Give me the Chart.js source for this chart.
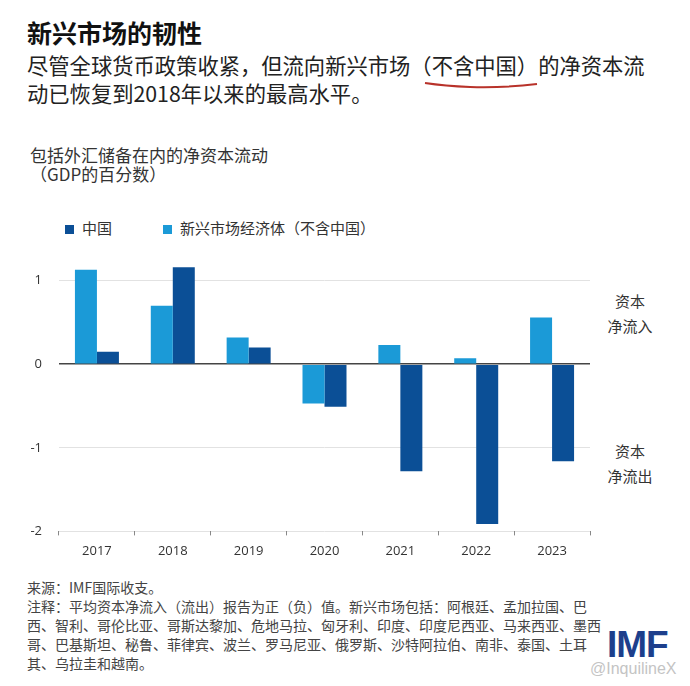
<!DOCTYPE html>
<html>
<head>
<meta charset="utf-8">
<script src="https://cdn.jsdelivr.net/npm/chart.js@4/dist/chart.umd.min.js"></script>
<style>
  body { margin: 0; background: #fff; width: 690px; height: 686px; overflow: hidden; position: relative; font-family: "Noto Sans CJK SC", sans-serif; }
  .abs { position: absolute; white-space: nowrap; }
  #title { left: 27px; top: 16px; font-size: 25px; line-height: 32px; font-weight: bold; color: #111; }
  #subtitle { left: 27px; top: 51px; font-size: 21.3px; line-height: 28px; color: #222; }
  #ytitle { left: 30px; top: 145px; font-size: 17px; line-height: 19px; color: #333; }
  .legend { top: 218px; font-size: 15px; line-height: 20px; color: #333; }
  .legend i { display: inline-block; width: 9px; height: 9px; margin-right: 8px; vertical-align: 0px; }
  .side { font-size: 15px; line-height: 25px; color: #333; text-align: center; left: 600px; width: 60px; }
  #notes { left: 27px; top: 578px; font-size: 14px; line-height: 19px; color: #444; }
  #imf { left: 607px; top: 624px; font-family: "Liberation Sans", sans-serif; font-weight: bold; font-size: 37px; color: #1d3f8c; letter-spacing: -1px; }
  #mark { left: 590px; top: 660px; font-family: "Liberation Sans", sans-serif; font-size: 16px; color: #c4c4c4; }
  #chart { position: absolute; left: 0; top: 214px; }
</style>
</head>
<body>
<div class="abs" id="title">新兴市场的韧性</div>
<div class="abs" id="subtitle">尽管全球货币政策收紧，但流向新兴市场（不含中国）的净资本流<br>动已恢复到2018年以来的最高水平。</div>
<svg class="abs" style="left:0;top:0" width="690" height="120">
  <path d="M425 83 Q445 86 470 87 Q505 88 537 84" stroke="#b8322a" stroke-width="2" fill="none"/>
</svg>
<div class="abs" id="ytitle">包括外汇储备在内的净资本流动<br>（GDP的百分数）</div>
<div class="abs legend" style="left:65px"><i style="background:#0b4f96"></i>中国</div>
<div class="abs legend" style="left:163px"><i style="background:#1b9ad7"></i>新兴市场经济体（不含中国）</div>
<div class="abs side" style="top:288px">资本<br>净流入</div>
<div class="abs side" style="top:438px">资本<br>净流出</div>
<canvas id="chart" width="690" height="355"></canvas>
<div class="abs" id="notes">来源：IMF国际收支。<br>注释：平均资本净流入（流出）报告为正（负）值。新兴市场包括：阿根廷、孟加拉国、巴<br>西、智利、哥伦比亚、哥斯达黎加、危地马拉、匈牙利、印度、印度尼西亚、马来西亚、墨西<br>哥、巴基斯坦、秘鲁、菲律宾、波兰、罗马尼亚、俄罗斯、沙特阿拉伯、南非、泰国、土耳<br>其、乌拉圭和越南。</div>
<div class="abs" id="imf">IMF</div>
<div class="abs" id="mark">@InquilineX</div>
<script>
const years = ["2017", "2018", "2019", "2020", "2021", "2022", "2023"];
const emValues = [1.13, 0.70, 0.32, -0.47, 0.23, 0.07, 0.56];
const chinaValues = [0.15, 1.16, 0.20, -0.51, -1.28, -1.91, -1.16];
const yTicks = [-2, -1, 0, 1];

const ctx = document.getElementById("chart").getContext("2d");
const myChart = new Chart(ctx, {
  type: "bar",
  data: {
    labels: years,
    datasets: [
      {
        label: "新兴市场经济体（不含中国）",
        data: emValues,
        backgroundColor: "#1b9ad7",
      },
      {
        label: "中国",
        data: chinaValues,
        backgroundColor: "#0b4f96",
      },
    ],
  },
  options: {
    responsive: false,
    animation: false,
    devicePixelRatio: 1,
    categoryPercentage: 0.58,
    barPercentage: 1,
    layout: { padding: { top: 8, right: 100, bottom: 2, left: 0 } },
    plugins: { legend: { display: false }, tooltip: { enabled: false } },
    scales: {
      y: {
        min: -2,
        max: 1.5,
        afterBuildTicks: function (scale) {
          scale.ticks = yTicks.map(function (v) { return { value: v }; });
        },
        afterFit: function (scale) { scale.width = 59; },
        border: { display: false },
        grid: {
          drawTicks: false,
          color: function (c) { return c.tick && c.tick.value === 0 ? "#444" : "#e2e2e2"; },
          lineWidth: function (c) { return c.tick && c.tick.value === 0 ? 1.5 : 1; },
        },
        ticks: { padding: 17, color: "#333", font: { family: "Open Sans", size: 13 } },
      },
      x: {
        border: { display: false },
        grid: { drawOnChartArea: false, drawTicks: true, tickLength: 4, color: "#888" },
        ticks: { padding: 8, color: "#333", font: { family: "Open Sans", size: 13 } },
      },
    },
  },
});
</script>
</body>
</html>
